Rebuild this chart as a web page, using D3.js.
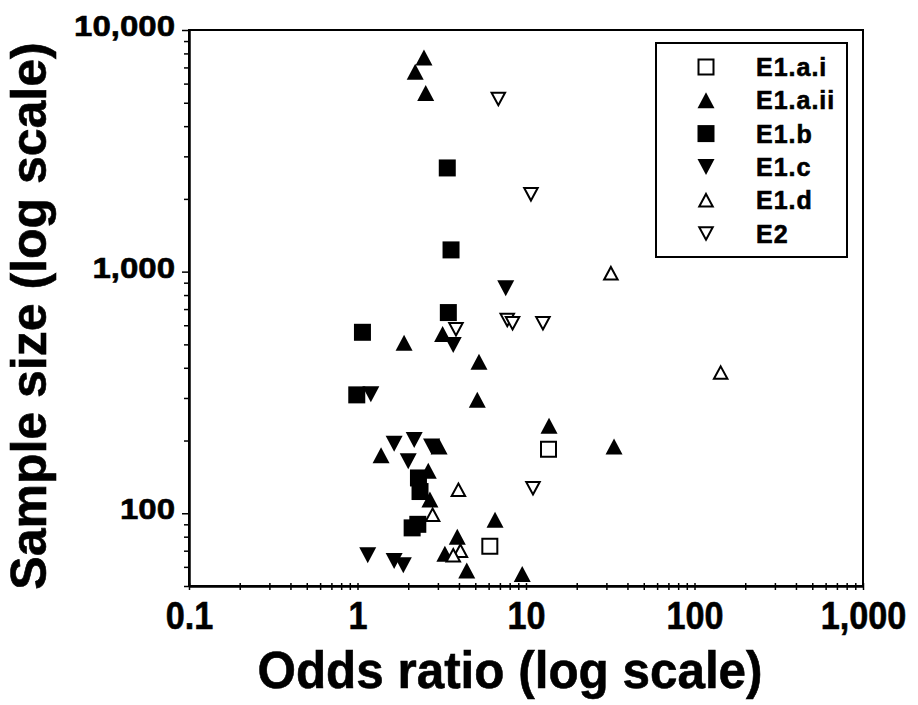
<!DOCTYPE html>
<html>
<head>
  <script src="https://d3js.org/d3.v7.min.js"></script>
  <style>
    body { margin: 0; background: #fff; }
    text { font-family: "Liberation Sans", Arial, Helvetica, sans-serif; font-weight: bold; fill: #000; stroke: #000; stroke-width: 0.6px; }
  </style>
</head>
<body>
  <svg id="chart" width="918" height="705"></svg>
  <script>
    // values: odds ratio (x) and sample size (y)
    const e1aiOdds = [13.6, 6.1];
    const e1aiN = [184, 73];
    const e1aiiOdds = [2.48, 2.2, 2.54, 3.2, 1.89, 5.26, 5.14, 13.7, 33.3, 1.38, 3.05, 2.63, 2.69, 6.55, 3.91, 3.3, 4.45, 9.5];
    const e1aiiN = [7700, 6720, 5480, 552, 508, 424, 295, 230, 189, 174, 189, 150, 114, 94, 80, 68, 58, 56];
    const e1bOdds = [3.41, 3.59, 3.46, 1.07, 0.99, 2.3, 2.35, 2.11, 2.28];
    const e1bN = [2686, 1230, 677, 561, 309, 140, 123, 87, 90];
    const e1cOdds = [7.58, 3.7, 1.2, 1.65, 2.17, 2.75, 2.0, 1.15, 1.65, 1.87];
    const e1cN = [854, 497, 311, 194, 201, 189, 164, 67, 63.5, 61];
    const e1dOdds = [31.9, 143, 3.97, 2.79, 4.08, 3.7];
    const e1dN = [985, 382, 125, 98.5, 70, 67];
    const e2Odds = [6.85, 10.7, 7.74, 8.32, 12.6, 3.84, 11.0];
    const e2N = [5182, 2090, 631, 612, 612, 578, 127];

    const seriesNames = ["E1.a.i", "E1.a.ii", "E1.b", "E1.c", "E1.d", "E2"];
    const xTicks = [0.1, 1, 10, 100, 1000];
    const xTickLabels = ["0.1", "1", "10", "100", "1,000"];
    const yTicks = [100, 1000, 10000];
    const yTickLabels = ["100", "1,000", "10,000"];

    const series = [
      { name: seriesNames[0], shape: "square", filled: false, xs: e1aiOdds, ys: e1aiN },
      { name: seriesNames[1], shape: "up", filled: true, xs: e1aiiOdds, ys: e1aiiN },
      { name: seriesNames[2], shape: "square", filled: true, xs: e1bOdds, ys: e1bN },
      { name: seriesNames[3], shape: "down", filled: true, xs: e1cOdds, ys: e1cN },
      { name: seriesNames[4], shape: "up", filled: false, xs: e1dOdds, ys: e1dN },
      { name: seriesNames[5], shape: "down", filled: false, xs: e2Odds, ys: e2N }
    ];

    const svg = d3.select('#chart');
    const margins = { top: 30, right: 55, bottom: 119, left: 189 };
    const width = +svg.attr('width');
    const height = +svg.attr('height');
    const chartWidth = width - margins.left - margins.right;
    const chartHeight = height - margins.top - margins.bottom;

    const xScale = d3.scaleLog().domain([0.1, 1000]).range([0, chartWidth]);
    const yScale = d3.scaleLog().domain([50, 10000]).range([chartHeight, 0]);

    // minor tick positions: 2..9 of each decade
    let xMinor = [], yMinor = [];
    [0.1, 1, 10, 100].forEach(d => { for (let k = 2; k < 10; k++) xMinor.push(d * k); });
    [10, 100, 1000].forEach(d => { for (let k = 2; k < 10; k++) if (d * k >= 50) yMinor.push(d * k); });

    // squeeze or stretch a text horizontally
    function scaleWidth(sel, f) {
      sel.each(function () {
        const w = this.getComputedTextLength();
        d3.select(this).attr('textLength', w * f).attr('lengthAdjust', 'spacingAndGlyphs');
      });
    }

    const chart = svg.append('g').attr('transform', `translate(${margins.left},${margins.top})`);

    // frame
    chart.append('rect')
      .attr('x', 0).attr('y', 0)
      .attr('width', chartWidth).attr('height', chartHeight)
      .attr('fill', 'none').attr('stroke', '#000').attr('stroke-width', 2);

    // x axis
    let xMinorAxis = chart.append('g')
      .attr('transform', `translate(0,${chartHeight})`)
      .call(d3.axisBottom(xScale).tickValues(xMinor).tickFormat('').tickSizeOuter(0).tickSizeInner(4));
    let xAxis = chart.append('g')
      .attr('transform', `translate(0,${chartHeight})`)
      .call(d3.axisBottom(xScale).tickValues(xTicks).tickSizeOuter(0).tickSizeInner(4)
        .tickFormat((d, i) => xTickLabels[i]));
    [xMinorAxis, xAxis].forEach(g => {
      g.select('.domain').attr('stroke-width', 2);
      g.selectAll('.tick line').attr('y1', -3).attr('stroke-width', 1.5);
    });
    xAxis.selectAll('.tick text')
      .attr('y', 43).attr('dy', 0)
      .style('font-size', '38px')
      .call(scaleWidth, 0.9);

    // y axis
    let yMinorAxis = chart.append('g')
      .call(d3.axisLeft(yScale).tickValues(yMinor).tickFormat('').tickSizeOuter(0).tickSizeInner(5));
    let yAxis = chart.append('g')
      .call(d3.axisLeft(yScale).tickValues(yTicks).tickSizeOuter(0).tickSizeInner(7)
        .tickFormat((d, i) => yTickLabels[i]));
    [yMinorAxis, yAxis].forEach(g => {
      g.select('.domain').attr('stroke-width', 2);
      g.selectAll('.tick line').attr('stroke-width', 1.5);
    });
    yAxis.selectAll('.tick text')
      .attr('x', -14).attr('dy', '0.32em').attr('y', -4)
      .style('font-size', '30px')
      .call(scaleWidth, 1.1);

    // marker shapes
    function shapePath(shape, filled) {
      if (shape == "square") {
        const s = filled ? 17 : 15;
        return `M${-s / 2},${-s / 2}h${s}v${s}h${-s}Z`;
      }
      const w = filled ? 17 : 13.5, h = filled ? 16 : 12.5;
      if (shape == "up") return `M0,${-h / 2}L${w / 2},${h / 2}L${-w / 2},${h / 2}Z`;
      return `M0,${h / 2}L${w / 2},${-h / 2}L${-w / 2},${-h / 2}Z`;
    }
    function styleMarker(sel, s) {
      sel.attr('d', shapePath(s.shape, s.filled))
        .attr('fill', s.filled ? '#000' : '#fff')
        .attr('stroke', '#000')
        .attr('stroke-width', s.filled ? 0 : 2);
    }

    // points
    series.forEach(s => {
      const pts = s.xs.map((x, i) => ({ x: x, y: s.ys[i] }));
      chart.append('g').selectAll('path').data(pts)
        .join('path')
        .attr('transform', d => `translate(${xScale(d.x)},${yScale(d.y)})`)
        .call(sel => styleMarker(sel, s));
    });

    // legend
    let legend = svg.append('g').attr('transform', 'translate(656,43)');
    legend.append('rect')
      .attr('width', 191).attr('height', 214)
      .attr('fill', '#fff').attr('stroke', '#000').attr('stroke-width', 2);
    let rows = legend.selectAll('.legend').data(series)
      .join('g')
      .attr('class', 'legend')
      .attr('transform', (d, i) => `translate(0,${24 + i * 33.3})`);
    rows.append('path')
      .attr('transform', 'translate(50,0)')
      .each(function (d) { styleMarker(d3.select(this), d); });
    rows.append('text')
      .attr('x', 100).attr('y', 9)
      .style('font-size', '25px')
      .style('letter-spacing', '1px')
      .text(d => d.name);

    // axis titles
    svg.append('text')
      .attr('x', 510).attr('y', 688)
      .style('text-anchor', 'middle')
      .style('font-size', '52px')
      .text("Odds ratio (log scale)")
      .call(scaleWidth, 0.95);
    svg.append('text')
      .attr('transform', 'translate(46,316) rotate(-90)')
      .style('text-anchor', 'middle')
      .style('font-size', '50px')
      .text("Sample size (log scale)");
  </script>
</body>
</html>
